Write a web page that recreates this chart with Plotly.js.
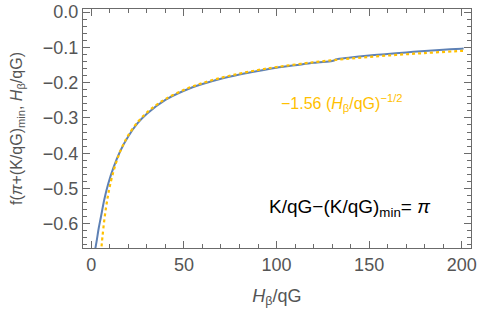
<!DOCTYPE html>
<html>
<head>
<meta charset="utf-8">
<script src="https://cdn.plot.ly/plotly-3.0.1.min.js"></script>
<style>html,body{margin:0;padding:0;background:#fff}#chart{width:480px;height:317px}</style>
</head>
<body>
<div id="chart"></div>
<script>
// Blue solid curve: f(pi + (K/qG)_min, H_beta/qG)
const blueX = [2.0, 2.2, 3, 4, 5.2, 7, 9.2, 12, 15.7, 20, 25, 30, 40, 50, 60, 70, 80, 90, 100, 110, 120, 130, 131, 132, 140, 150, 160, 170, 180, 190, 200, 201];
const blueY = [-0.676, -0.669, -0.645, -0.612, -0.580, -0.531, -0.485, -0.440, -0.393, -0.352, -0.315, -0.288, -0.249, -0.223, -0.204, -0.189, -0.177, -0.167, -0.158, -0.151, -0.144, -0.139, -0.1375, -0.1345, -0.129, -0.1235, -0.119, -0.1145, -0.1105, -0.107, -0.104, -0.1037];
// Orange dashed curve: -1.56 (H_beta/qG)^(-1/2)
const orangeX = [5, 5.5, 6, 7, 8, 9, 10, 12, 14, 16, 18, 20, 25, 30, 35, 40, 50, 60, 70, 80, 90, 100, 120, 140, 160, 180, 200, 201];
const orangeY = [-0.6977, -0.6652, -0.6369, -0.5896, -0.5515, -0.52, -0.4933, -0.4503, -0.4169, -0.39, -0.3677, -0.3488, -0.312, -0.2848, -0.2637, -0.2467, -0.2206, -0.2014, -0.1865, -0.1744, -0.1644, -0.156, -0.1424, -0.1318, -0.1233, -0.1163, -0.1103, -0.11];
const xTicks = [0, 50, 100, 150, 200];
const yTicks = [0, -0.1, -0.2, -0.3, -0.4, -0.5, -0.6];

const FONT = "Liberation Sans, Arial, sans-serif";
const GRAY = "#6b6b6b";
const LBL = "#555555";

const traces = [
  {x: blueX, y: blueY, mode: "lines", line: {color: "#5E81B5", width: 2, shape: "spline"}, hoverinfo: "skip"},
  {x: orangeX, y: orangeY, mode: "lines", line: {color: "#FFC000", width: 2.2, dash: "3px,3px", shape: "spline"}, hoverinfo: "skip"}
];

const axisCommon = {
  showgrid: false, zeroline: false, showline: true, linecolor: GRAY, linewidth: 1,
  mirror: "allticks", ticks: "inside", tickcolor: GRAY, tickwidth: 1, ticklen: 7,
  tickfont: {family: FONT, size: 18, color: LBL}
};

const layout = {
  width: 480, height: 317,
  margin: {l: 83, r: 9, t: 9, b: 69},
  paper_bgcolor: "#fff", plot_bgcolor: "#fff",
  showlegend: false,
  xaxis: Object.assign({}, axisCommon, {
    range: [-4.5, 205], tickvals: xTicks, ticktext: xTicks.map(String),
    minor: {dtick: 10, tick0: 0, ticks: "inside", ticklen: 4, tickcolor: GRAY, tickwidth: 1},
    title: {text: "<i>H</i><sub>β</sub>/qG", font: {family: FONT, size: 18, color: LBL}, standoff: 15}
  }),
  yaxis: Object.assign({}, axisCommon, {
    range: [-0.6686, 0.0085], tickvals: yTicks, ticktext: yTicks.map(v => v === 0 ? "0.0" : "\u2212" + Math.abs(v).toFixed(1)),
    minor: {dtick: 0.02, tick0: 0, ticks: "inside", ticklen: 4, tickcolor: GRAY, tickwidth: 1},
    title: {text: "f(<i>π</i>+(K/qG)<sub>min</sub>, <i>H</i><sub>β</sub>/qG)", font: {family: FONT, size: 16, color: LBL}, standoff: 16}
  }),
  annotations: [
    {x: 0.667, y: 0.607, xref: "paper", yref: "paper", showarrow: false, xanchor: "center", yanchor: "middle",
     text: "\u22121.56 (<i>H</i><sub>β</sub>/qG)<sup>\u22121/2</sup>", font: {family: FONT, size: 16, color: "#FFC000"}},
    {x: 0.688, y: 0.167, xref: "paper", yref: "paper", showarrow: false, xanchor: "center", yanchor: "middle",
     text: "K/qG\u2212(K/qG)<sub>min</sub>= <i>π</i>", font: {family: FONT, size: 19, color: "#000"}}
  ]
};

Plotly.newPlot("chart", traces, layout, {staticPlot: true, displayModeBar: false});
</script>
</body>
</html>
